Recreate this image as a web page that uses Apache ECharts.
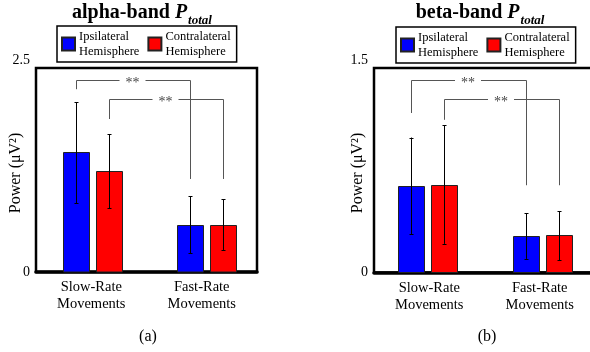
<!DOCTYPE html>
<html>
<head>
<meta charset="utf-8">
<script src="https://cdn.jsdelivr.net/npm/echarts@6/dist/echarts.min.js"></script>
<style>
html,body{margin:0;padding:0;background:#fff;}
#chart{width:590px;height:352px;}
</style>
</head>
<body>
<div id="chart"></div>
<script>
// ---- data ----
const categories = ['Slow-Rate\nMovements', 'Fast-Rate\nMovements'];
const seriesNames = ['Ipsilateral', 'Contralateral'];
const legendLines = {Ipsilateral: 'Ipsilateral\nHemisphere', Contralateral: 'Contralateral\nHemisphere'};
const yAxisTitle = 'Power (\u03bcV\u00b2)';

const alphaIpsi = [1.47, 0.58];
const alphaIpsiLow = [0.84, 0.23];
const alphaIpsiHigh = [2.08, 0.93];
const alphaContra = [1.24, 0.58];
const alphaContraLow = [0.78, 0.27];
const alphaContraHigh = [1.69, 0.89];

const betaIpsi = [0.637, 0.27];
const betaIpsiLow = [0.28, 0.10];
const betaIpsiHigh = [0.99, 0.435];
const betaContra = [0.645, 0.273];
const betaContraLow = [0.21, 0.09];
const betaContraHigh = [1.08, 0.45];

// significance brackets: [leftCategory, leftSeries, rightCategory, rightSeries, top, leftEnd, rightEnd]
const alphaBrackets = [[1, 0, 2, 0, 2.35, 2.24, 1.14], [1, 1, 2, 1, 2.12, 1.875, 1.14]];
const betaBrackets = [[1, 0, 2, 0, 1.41, 1.17, 0.64], [1, 1, 2, 1, 1.27, 1.12, 0.64]];
const sigLabel = '**';

const alphaYTicks = [0, 2.5];
const betaYTicks = [0, 1.5];

// ---- styles ----
const SERIF = '"Liberation Serif", "Times New Roman", serif';
const COLORS = ['#0000ff', '#ff0000'];
const BAR_W = 27;
const BAR_GAP = 6;
const OFF = (BAR_W + BAR_GAP) / 2;
const SIGN = [-1, 1];

const chart = echarts.init(document.getElementById('chart'), null, {renderer: 'canvas'});

function crisp(v) { return Math.round(v) + 0.5; }

function barSeries(idx, vals, xi, yi) {
  return {
    type: 'custom', name: seriesNames[idx], xAxisIndex: xi, yAxisIndex: yi,
    data: vals.map((v, i) => [i + 1, v]),
    encode: {x: 0, y: 1},
    itemStyle: {color: COLORS[idx], borderColor: '#222', borderWidth: 1},
    z: 3, silent: true,
    renderItem: function (params, api) {
      const base = api.coord([api.value(0), 0]);
      const top = api.coord([api.value(0), api.value(1)]);
      const cx = base[0] + SIGN[idx] * OFF;
      const x0 = Math.round(cx - BAR_W / 2) + 0.5;
      return {type: 'rect', shape: {x: x0, y: Math.round(top[1]) + 0.5, width: BAR_W - 1, height: base[1] - Math.round(top[1]) - 0.5},
        style: {fill: COLORS[idx], stroke: '#222', lineWidth: 1}};
    }
  };
}

function errSeries(idx, low, high, xi, yi) {
  return {
    type: 'custom', xAxisIndex: xi, yAxisIndex: yi, silent: true, z: 6,
    data: low.map((l, i) => [i + 1, l, high[i]]),
    encode: {x: 0, y: [1, 2]},
    renderItem: function (params, api) {
      const lo = api.coord([api.value(0), api.value(1)]);
      const hi = api.coord([api.value(0), api.value(2)]);
      const x = crisp(lo[0] + SIGN[idx] * OFF - 0.5);
      const st = {stroke: '#000', lineWidth: 1};
      return {type: 'group', children: [
        {type: 'line', shape: {x1: x, y1: lo[1], x2: x, y2: hi[1]}, style: st},
        {type: 'line', shape: {x1: x - 2, y1: crisp(lo[1]), x2: x + 2, y2: crisp(lo[1])}, style: st},
        {type: 'line', shape: {x1: x - 2, y1: crisp(hi[1]), x2: x + 2, y2: crisp(hi[1])}, style: st}
      ]};
    }
  };
}

function bracketSeries(brackets, xi, yi) {
  return {
    type: 'custom', xAxisIndex: xi, yAxisIndex: yi, silent: true, z: 4,
    data: brackets,
    encode: {x: [0, 2], y: [4, 5, 6]},
    renderItem: function (params, api) {
      const pTopL = api.coord([api.value(0), api.value(4)]);
      const pTopR = api.coord([api.value(2), api.value(4)]);
      const pL = api.coord([api.value(0), api.value(5)]);
      const pR = api.coord([api.value(2), api.value(6)]);
      const xl = crisp(pTopL[0] + SIGN[api.value(1)] * OFF - 0.5);
      const xr = crisp(pTopR[0] + SIGN[api.value(3)] * OFF - 0.5);
      const yt = crisp(pTopL[1]);
      const mid = (xl + xr) / 2 - 1;
      const st = {stroke: '#555', lineWidth: 1};
      return {type: 'group', children: [
        {type: 'line', shape: {x1: xl, y1: pL[1], x2: xl, y2: yt}, style: st},
        {type: 'line', shape: {x1: xl, y1: yt, x2: mid - 13, y2: yt}, style: st},
        {type: 'line', shape: {x1: mid + 13, y1: yt, x2: xr, y2: yt}, style: st},
        {type: 'line', shape: {x1: xr, y1: yt, x2: xr, y2: pR[1]}, style: st},
        {type: 'text', x: mid, y: yt + 3, style: {text: sigLabel, fill: '#444', font: '14px ' + SERIF, align: 'center', verticalAlign: 'middle'}}
      ]};
    }
  };
}

function yAxisCfg(gi, ticks) {
  const mx = ticks[ticks.length - 1];
  return {
    type: 'value', gridIndex: gi, min: ticks[0], max: mx, interval: mx - ticks[0],
    axisLine: {show: false}, axisTick: {show: false}, splitLine: {show: false},
    axisLabel: {
      margin: 6, fontFamily: SERIF, fontSize: 14, color: '#000',
      formatter: function (v) { return v === mx ? '{t|' + v + '}' : '{n|' + v + '}'; },
      rich: {t: {fontFamily: SERIF, fontSize: 14, color: '#000', padding: [0, 0, 16, 0]},
             n: {fontFamily: SERIF, fontSize: 14, color: '#000'}}
    }
  };
}

function catAxisCfg(gi) {
  return {
    type: 'category', gridIndex: gi, data: categories, boundaryGap: true,
    axisLine: {show: true, lineStyle: {color: '#000', width: 3.5}},
    axisTick: {show: false},
    axisLabel: {margin: 7, fontFamily: SERIF, fontSize: 14.5, color: '#000', lineHeight: 17}
  };
}

function valXAxisCfg(gi, min, max) {
  return {type: 'value', gridIndex: gi, min: min, max: max, show: false, splitLine: {show: false}};
}

function legendCfg(left, top) {
  return {
    data: seriesNames, left: left, top: top, orient: 'horizontal',
    itemWidth: 13, itemHeight: 13, itemGap: 8,
    padding: [3, 6, 3, 4], borderColor: '#000', borderWidth: 1.5,
    icon: 'rect', selectedMode: false,
    formatter: function (n) { return legendLines[n]; },
    textStyle: {fontFamily: SERIF, fontSize: 12.5, color: '#000', lineHeight: 15, padding: [0, 0, 0, -1]}
  };
}

function titleText(x, band) {
  return {
    type: 'text', x: x, y: 3,
    style: {
      text: '{a|' + band + '-band }{p|P}{s|total}',
      align: 'center', verticalAlign: 'top',
      rich: {
        a: {fontFamily: SERIF, fontSize: 20, fontWeight: 'bold', fill: '#000', color: '#000', verticalAlign: 'top', lineHeight: 26},
        p: {fontFamily: SERIF, fontSize: 20, fontWeight: 'bold', fontStyle: 'italic', fill: '#000', color: '#000', verticalAlign: 'top', lineHeight: 26},
        s: {fontFamily: SERIF, fontSize: 13, fontWeight: 'bold', fontStyle: 'italic', fill: '#000', color: '#000', verticalAlign: 'top', lineHeight: 26, padding: [11, 0, 0, 1]}
      }
    }
  };
}

function yTitle(x) {
  return {type: 'text', x: x, y: 173, rotation: Math.PI / 2,
    style: {text: yAxisTitle, font: '16px ' + SERIF, fill: '#000', align: 'center', verticalAlign: 'middle'}};
}

function gridCfg(left, height) {
  return {left: left, top: 68, width: 221, height: height, show: true, borderColor: '#000', borderWidth: 2.5,
    backgroundColor: 'transparent', containLabel: false, outerBoundsMode: 'none'};
}

const option = {
  animation: false,
  backgroundColor: '#fff',
  grid: [gridCfg(36, 204), gridCfg(374, 204.5)],
  xAxis: [catAxisCfg(0), valXAxisCfg(0, 0.5, 2.439), catAxisCfg(1), valXAxisCfg(1, 0.525, 2.455)],
  yAxis: [yAxisCfg(0, alphaYTicks), yAxisCfg(1, betaYTicks)],
  legend: [legendCfg(57, 26), legendCfg(396, 27)],
  series: [
    barSeries(0, alphaIpsi, 1, 0),
    barSeries(1, alphaContra, 1, 0),
    errSeries(0, alphaIpsiLow, alphaIpsiHigh, 1, 0),
    errSeries(1, alphaContraLow, alphaContraHigh, 1, 0),
    bracketSeries(alphaBrackets, 1, 0),
    barSeries(0, betaIpsi, 3, 1),
    barSeries(1, betaContra, 3, 1),
    errSeries(0, betaIpsiLow, betaIpsiHigh, 3, 1),
    errSeries(1, betaContraLow, betaContraHigh, 3, 1),
    bracketSeries(betaBrackets, 3, 1)
  ],
  graphic: [
    titleText(142, 'alpha'),
    titleText(480, 'beta'),
    yTitle(16),
    yTitle(358),
    {type: 'text', x: 148, y: 337, style: {text: '(a)', font: '16px ' + SERIF, fill: '#000', align: 'center', verticalAlign: 'middle'}},
    {type: 'text', x: 487, y: 337, style: {text: '(b)', font: '16px ' + SERIF, fill: '#000', align: 'center', verticalAlign: 'middle'}}
  ]
};
chart.setOption(option);
</script>
</body>
</html>
